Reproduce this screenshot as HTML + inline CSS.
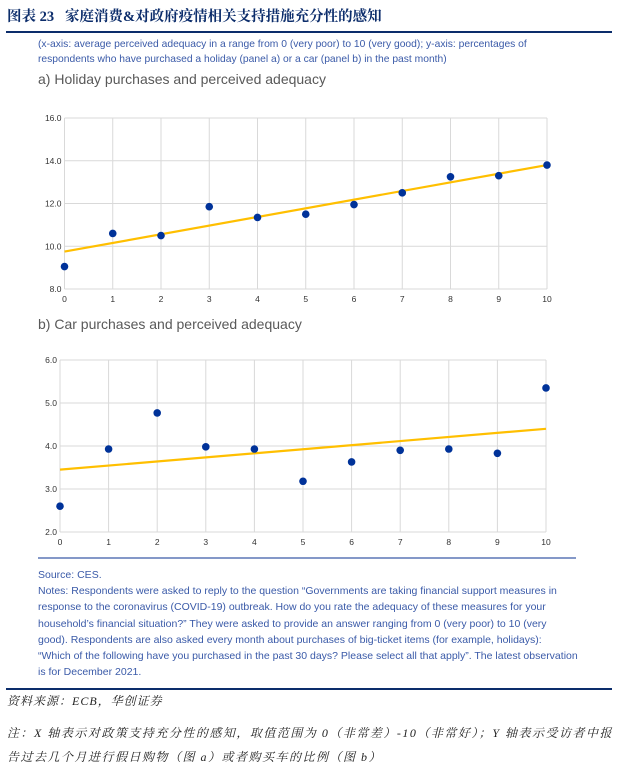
<!DOCTYPE html>
<html><head><meta charset="utf-8"><style>
body{margin:0;width:623px;height:773px;background:#fff;position:relative;overflow:hidden;font-family:"Liberation Sans","Noto Sans CJK SC",sans-serif}
.abs{position:absolute;white-space:nowrap}
.blue{color:#3a5aa8}
</style></head><body>
<div class="abs" style="left:7px;top:5px;font-family:'Liberation Serif','Noto Serif CJK SC',serif;font-weight:bold;font-size:14.5px;color:#0c2d6b">图表 23&nbsp;&nbsp;&nbsp;家庭消费&amp;对政府疫情相关支持措施充分性的感知</div>
<div class="abs" style="left:6px;top:31px;width:606px;height:2px;background:#0c2d6b"></div>
<div class="abs blue" style="left:38px;top:38px;font-size:10.3px;line-height:14.5px">(x-axis: average perceived adequacy in a range from 0 (very poor) to 10 (very good); y-axis: percentages of<br>respondents who have purchased a holiday (panel a) or a car (panel b) in the past month)</div>
<div class="abs" style="left:38px;top:71px;font-size:14px;color:#595959">a) Holiday purchases and perceived adequacy</div>
<div class="abs" style="left:38px;top:316px;font-size:14px;color:#595959">b) Car purchases and perceived adequacy</div>
<svg class="abs" style="left:0;top:0" width="623" height="773">
<g id="ca"></g><g id="cb"></g>
<line x1="38" y1="558" x2="576" y2="558" stroke="#3a5aa8" stroke-width="1.2"/>
<line x1="6" y1="689" x2="612" y2="689" stroke="#0c2d6b" stroke-width="2"/>
</svg>
<div class="abs blue" style="left:38px;top:567px;font-size:10.5px;line-height:16.2px">Source: CES.<br>Notes: Respondents were asked to reply to the question “Governments are taking financial support measures in<br>response to the coronavirus (COVID-19) outbreak. How do you rate the adequacy of these measures for your<br>household’s financial situation?” They were asked to provide an answer ranging from 0 (very poor) to 10 (very<br>good). Respondents are also asked every month about purchases of big-ticket items (for example, holidays):<br>“Which of the following have you purchased in the past 30 days? Please select all that apply”. The latest observation<br>is for December 2021.</div>
<div class="abs" style="left:7px;top:692px;font-size:12px;letter-spacing:1px;font-style:italic;color:#222;font-family:'Liberation Serif','Noto Serif CJK SC',serif">资料来源：ECB，华创证券</div>
<div class="abs" style="left:7px;top:721px;font-size:12px;letter-spacing:1.5px;line-height:24px;font-style:italic;color:#222;font-family:'Liberation Serif','Noto Serif CJK SC',serif">注：X 轴表示对政策支持充分性的感知，取值范围为 0（非常差）-10（非常好）；Y 轴表示受访者中报<br>告过去几个月进行假日购物（图 a）或者购买车的比例（图 b）</div>
<script>
const xCats=[0,1,2,3,4,5,6,7,8,9,10];
const holidayVals=[9.05,10.6,10.5,11.85,11.35,11.5,11.95,12.5,13.25,13.3,13.8];
const holidayTrend=[9.75,13.8];
const holidayTicks=[8,10,12,14,16];
const carVals=[2.6,3.93,4.77,3.98,3.93,3.18,3.63,3.9,3.93,3.83,5.35];
const carTrend=[3.45,4.4];
const carTicks=[2,3,4,5,6];
const NS='http://www.w3.org/2000/svg';
function mk(g,tag,attrs){const e=document.createElementNS(NS,tag);for(const k in attrs)e.setAttribute(k,attrs[k]);g.appendChild(e);return e;}
function draw(id,vals,trend,ticks,L,R,T,B,name){
  const g=document.getElementById(id);
  const ymin=ticks[0],ymax=ticks[ticks.length-1];
  const xs=v=>L+(v-xCats[0])/(xCats[xCats.length-1]-xCats[0])*(R-L);
  const ys=v=>B-(v-ymin)/(ymax-ymin)*(B-T);
  ticks.forEach(t=>{
    const l=mk(g,'line',{x1:L,x2:R,y1:ys(t),y2:ys(t),stroke:'#d9d9d9','stroke-width':1});
    
    
    const tx=mk(g,'text',{x:L-3,y:ys(t)+3,'text-anchor':'end','font-size':8.5,fill:'#333','font-family':'Liberation Sans'});
    tx.textContent=t.toFixed(1);
    
    
  });
  xCats.forEach(c=>{
    const l=mk(g,'line',{x1:xs(c),x2:xs(c),y1:T,y2:B,stroke:'#d9d9d9','stroke-width':1});
    
    
    const tx=mk(g,'text',{x:xs(c),y:B+13,'text-anchor':'middle','font-size':8.5,fill:'#333','font-family':'Liberation Sans'});
    tx.textContent=c;
    
    
  });
  const tl=mk(g,'line',{x1:xs(xCats[0]),x2:xs(xCats[xCats.length-1]),y1:ys(trend[0]),y2:ys(trend[1]),stroke:'#ffbf00','stroke-width':2.2});
  
  
  vals.forEach((v,i)=>{
    const c=mk(g,'circle',{cx:xs(xCats[i]),cy:ys(v),r:3.8,fill:'#003299'});
    
    
  });
}
draw('ca',holidayVals,holidayTrend,holidayTicks,64.5,547,118,289,'holiday');
draw('cb',carVals,carTrend,carTicks,60,546,360,532,'car');
</script>
</body></html>
